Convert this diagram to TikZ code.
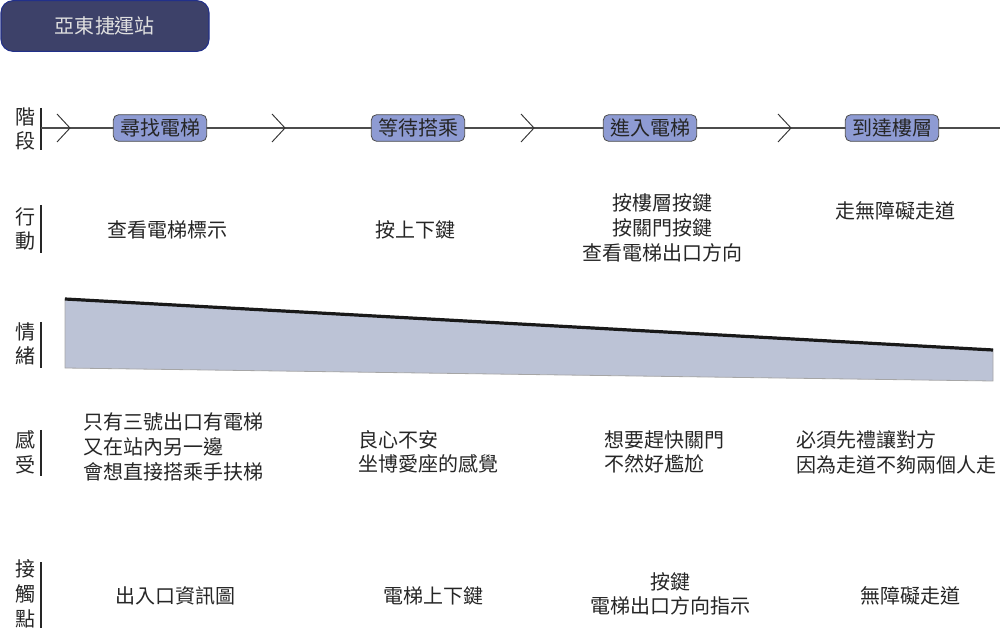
\documentclass[tikz,border=0pt]{standalone}
\usepackage{fontspec}
\setmainfont{Noto Sans CJK TC}
\begin{document}
\begin{tikzpicture}[x=0.75pt,y=-0.75pt,
  txt/.style={font=\fontsize{15}{18.5}\selectfont, text=black!85, inner sep=0pt},
  rowlabel/.style={txt, align=center},
  bar/.style={draw=black!85, line width=0.8pt},
  phase/.style={txt, draw=black!70, line width=0.6pt, fill=phasefill, rounded corners=4pt, minimum width=70pt, minimum height=20pt},
  chev/.style={draw=black!80, line width=0.7pt},
]
\definecolor{titlefill}{HTML}{3D4169}
\definecolor{titleedge}{HTML}{22308A}
\definecolor{phasefill}{HTML}{8E9BD3}
\definecolor{moodfill}{HTML}{BCC3D6}
\useasboundingbox (0,0) rectangle (1000,641);

% title
\node[txt, text=white!88!black, fill=titlefill, draw=titleedge, line width=0.8pt, rounded corners=9pt, minimum width=156pt, minimum height=38pt] (title) at (105,26) {亞東捷運站};

% stage row
\node[rowlabel] (lstage) at (26,129) {階\\段};
\draw[bar] (41,108) -- (41,150);
\coordinate (ls) at (41,128);
\coordinate (le) at (1000,128);
\draw[draw=black!70, line width=0.8pt] (ls) -- (le);
\foreach \cx in {57,272,521,778}{
  \draw[chev] (\cx,114) -- (\cx+13,128) -- (\cx,142);
}
\node[phase] (p1) at (160,128) {尋找電梯};
\node[phase] (p2) at (418,128) {等待搭乘};
\node[phase] (p3) at (650,128) {進入電梯};
\node[phase] (p4) at (892,128) {到達樓層};

% action row
\node[rowlabel] (laction) at (26,229) {行\\動};
\draw[bar] (41,205) -- (41,253);
\node[txt] (a1) at (167,230) {查看電梯標示};
\node[txt] (a2) at (415,230) {按上下鍵};
\node[txt, align=center] (a3) at (662,228) {按樓層按鍵\\按關門按鍵\\查看電梯出口方向};
\node[txt] (a4) at (895,211) {走無障礙走道};

% mood row
\node[rowlabel] (lmood) at (26,344) {情\\緒};
\draw[bar] (41,322) -- (41,368);
\fill[moodfill] (65,298) -- (993,349) -- (993,381) -- (65,368) -- cycle;
\draw[black!35, line width=0.6pt] (65,298) -- (65,368) -- (993,381) -- (993,349);
\draw[black!90, line width=2.4pt] (65,299) -- (993,350);

% feeling row
\node[rowlabel] (lfeel) at (26,452) {感\\受};
\draw[bar] (41,430) -- (41,476);
\node[txt, align=left, anchor=west] (f1) at (83,447) {只有三號出口有電梯\\又在站內另一邊\\會想直接搭乘手扶梯};
\node[txt, align=left, anchor=west] (f2) at (358,452) {良心不安\\坐博愛座的感覺};
\node[txt, align=left, anchor=west] (f3) at (604,452) {想要趕快關門\\不然好尷尬};
\node[txt, align=left, anchor=west] (f4) at (796,452) {必須先禮讓對方\\因為走道不夠兩個人走};

% touchpoint row
\node[rowlabel] (ltouch) at (26,594) {接\\觸\\點};
\draw[bar] (41,562) -- (41,628);
\node[txt] (t1) at (175,596) {出入口資訊圖};
\node[txt] (t2) at (433,596) {電梯上下鍵};
\node[txt, align=center] (t3) at (670,594) {按鍵\\電梯出口方向指示};
\node[txt] (t4) at (910,596) {無障礙走道};
\end{tikzpicture}
\end{document}
